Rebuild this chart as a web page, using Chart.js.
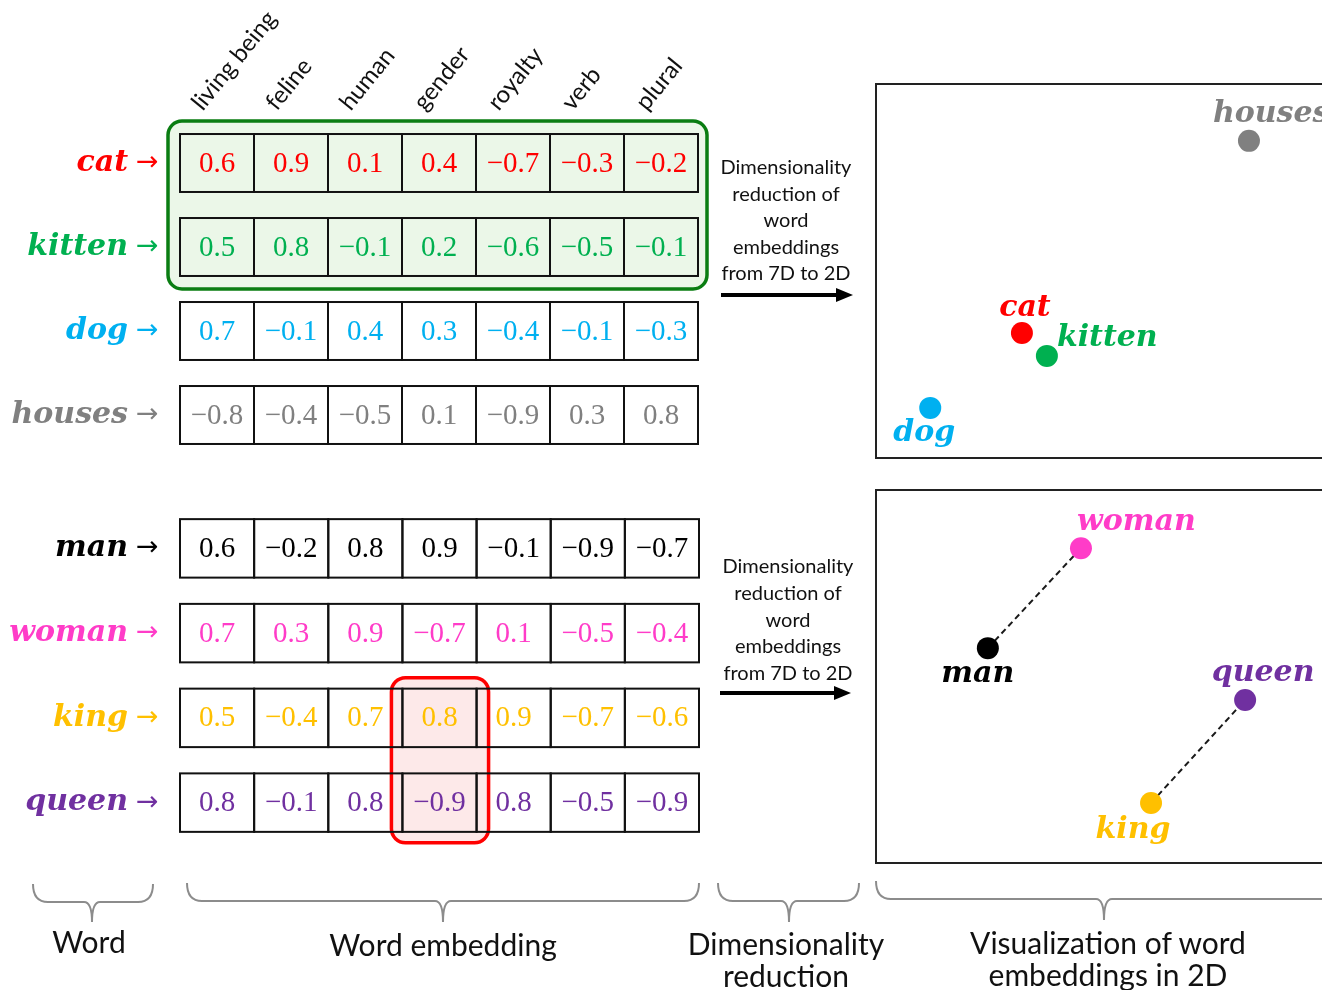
<!DOCTYPE html>
<html>
<head>
<meta charset="utf-8">
<title>Word embeddings</title>
<script src="https://cdn.jsdelivr.net/npm/chart.js@4.4.1/dist/chart.umd.min.js"></script>
<style>
  body { margin: 0; width: 1322px; height: 990px; overflow: hidden; background: #fff; position: relative; }
  .holder { position: absolute; }
  #notes { position: absolute; left: 0; top: 0; pointer-events: none; }
</style>
</head>
<body>
<div class="holder" style="left:0;top:0"><canvas id="tableTop" width="720" height="460"></canvas></div>
<div class="holder" style="left:0;top:480px"><canvas id="tableBottom" width="720" height="380"></canvas></div>
<div class="holder" style="left:865px;top:73px"><canvas id="plotTop" width="505" height="396"></canvas></div>
<div class="holder" style="left:865px;top:479px"><canvas id="plotBottom" width="505" height="395"></canvas></div>

<svg id="notes" width="1322" height="990" font-family="Lato" fill="#111">
  <g text-anchor="middle" font-size="20">
    <text x="786" y="174">Dimensionality</text>
    <text x="786" y="200.5">reduction of</text>
    <text x="786" y="227">word</text>
    <text x="786" y="253.5">embeddings</text>
    <text x="786" y="280">from 7D to 2D</text>
    <text x="788" y="573">Dimensionality</text>
    <text x="788" y="600">reduction of</text>
    <text x="788" y="626.5">word</text>
    <text x="788" y="653">embeddings</text>
    <text x="788" y="680">from 7D to 2D</text>
  </g>
  <g stroke="#000" stroke-width="4">
    <line x1="721" y1="295" x2="838" y2="295"/>
    <line x1="720" y1="693" x2="836" y2="693"/>
  </g>
  <polygon points="836,288 853,295 836,302" fill="#000"/>
  <polygon points="834,686 851,693 834,700" fill="#000"/>
  <g fill="none" stroke="#8c8c8c" stroke-width="2">
    <path d="M33,884 Q33,902 48,902 L84,902 Q92,902 92,922 Q92,902 100,902 L138,902 Q153,902 153,884"/>
    <path d="M187,883 Q187,901 202,901 L435,901 Q443,901 443,922 Q443,901 451,901 L684,901 Q699,901 699,883"/>
    <path d="M718,883 Q718,901 733,901 L781,901 Q789,901 789,922 Q789,901 797,901 L844,901 Q859,901 859,883"/>
    <path d="M876,881 Q876,899 891,899 L1096,899 Q1104,899 1104,920 Q1104,899 1112,899 L1340,899"/>
  </g>
  <g text-anchor="middle" font-size="30">
    <text x="89" y="953">Word</text>
    <text x="443" y="956">Word embedding</text>
    <text x="786" y="955">Dimensionality</text>
    <text x="786" y="987">reduction</text>
    <text x="1108" y="954">Visualization of word</text>
    <text x="1108" y="986">embeddings in 2D</text>
  </g>
</svg>

<script>
// embedding dimensions (column headers)
const features = ['living being', 'feline', 'human', 'gender', 'royalty', 'verb', 'plural'];

// words of the two tables
const wordsTop = ['cat', 'kitten', 'dog', 'houses'];
const wordsBottom = ['man', 'woman', 'king', 'queen'];

// 7D embeddings, one array per word
const catVec    = [0.6, 0.9, 0.1, 0.4, -0.7, -0.3, -0.2];
const kittenVec = [0.5, 0.8, -0.1, 0.2, -0.6, -0.5, -0.1];
const dogVec    = [0.7, -0.1, 0.4, 0.3, -0.4, -0.1, -0.3];
const housesVec = [-0.8, -0.4, -0.5, 0.1, -0.9, 0.3, 0.8];
const manVec    = [0.6, -0.2, 0.8, 0.9, -0.1, -0.9, -0.7];
const womanVec  = [0.7, 0.3, 0.9, -0.7, 0.1, -0.5, -0.4];
const kingVec   = [0.5, -0.4, 0.7, 0.8, 0.9, -0.7, -0.6];
const queenVec  = [0.8, -0.1, 0.8, -0.9, 0.8, -0.5, -0.9];

// 2D positions (both axes 0..10)
const topX = [3.04, 3.56, 1.13, 7.77];
const topY = [3.34, 2.73, 1.34, 8.48];
const bottomX = [2.33, 4.27, 5.73, 7.69];
const bottomY = [5.76, 8.44, 1.61, 4.37];

// highlighted groups and dashed pairs
const similarWords = ['cat', 'kitten'];
const genderWords = ['king', 'queen'];
const genderFeature = 'gender';
const analogyPairs = [['man', 'woman'], ['king', 'queen']];

// styles
const wordColors = {
  cat: '#ff0000', kitten: '#00b050', dog: '#00b0f0', houses: '#808080',
  man: '#000000', woman: '#ff3cc8', king: '#ffc000', queen: '#7030a0'
};
const wordFont = { family: 'DejaVu Serif', size: 30, style: 'italic', weight: 'bold' };
const cellFont = '29px "Liberation Serif"';
// label placement around each plotted point: [dx, dy, align]
const labelOffsets = {
  cat: [3, -17, 'center'], kitten: [10, -10, 'left'], dog: [-6, 33, 'center'], houses: [-36, -19, 'left'],
  man: [-10, 34, 'center'], woman: [-4, -18, 'left'], king: [-18, 35, 'center'], queen: [18, -19, 'center']
};

function fmt(v) {
  return (v < 0 ? '\u2212' : '') + Math.abs(v).toFixed(1);
}

function roundRect(ctx, x, y, w, h, r) {
  ctx.beginPath();
  ctx.moveTo(x + r, y);
  ctx.arcTo(x + w, y, x + w, y + h, r);
  ctx.arcTo(x + w, y + h, x, y + h, r);
  ctx.arcTo(x, y + h, x, y, r);
  ctx.arcTo(x, y, x + w, y, r);
  ctx.closePath();
}

// draws the embedding cells at the points placed by the category scales
const cellTable = {
  id: 'cellTable',
  beforeDatasetsDraw(chart, args, opts) {
    const ctx = chart.ctx;
    const {x, y} = chart.scales;
    const bw = x.width / x.ticks.length;
    const bh = y.height / y.ticks.length;
    (opts.highlights || []).forEach(h => {
      const xs = h.cols.map(c => x.getPixelForValue(features.indexOf(c)));
      const ys = h.rows.map(r => y.getPixelForValue(y.getLabels().indexOf(r)));
      const left = Math.min(...xs) - bw / 2 - h.padX[0];
      const right = Math.max(...xs) + bw / 2 + h.padX[1];
      const top = Math.min(...ys) - bh * 0.345 - h.padY;
      const bottom = Math.max(...ys) + bh * 0.345 + h.padY;
      ctx.save();
      roundRect(ctx, left, top, right - left, bottom - top, 14);
      ctx.fillStyle = h.fill;
      ctx.fill();
      ctx.lineWidth = 3.5;
      ctx.strokeStyle = h.stroke;
      ctx.stroke();
      ctx.restore();
    });
  },
  afterDatasetsDraw(chart) {
    const ctx = chart.ctx;
    const {x, y} = chart.scales;
    const bw = x.width / x.ticks.length;
    const bh = y.height / y.ticks.length;
    const ch = bh * 0.69;
    const meta = chart.getDatasetMeta(0);
    const cells = chart.data.datasets[0].data;
    ctx.save();
    meta.data.forEach((pt, i) => {
      const cell = cells[i];
      ctx.lineWidth = 2;
      ctx.strokeStyle = '#111';
      ctx.strokeRect(pt.x - bw / 2, pt.y - ch / 2, bw, ch);
      ctx.fillStyle = wordColors[cell.y];
      ctx.font = cellFont;
      ctx.textAlign = 'center';
      ctx.textBaseline = 'middle';
      ctx.fillText(fmt(cell.v), pt.x, pt.y + 1);
    });
    // arrows after the word labels
    y.getLabels().forEach((w, i) => {
      ctx.fillStyle = wordColors[w];
      ctx.font = '27px "DejaVu Sans"';
      ctx.textAlign = 'left';
      ctx.textBaseline = 'middle';
      ctx.fillText('\u2192', chart.chartArea.left - 44, y.getPixelForTick(i));
    });
    ctx.restore();
  }
};

function tableChart(id, words, vectors, showHeader, padding, highlights) {
  const cells = words.flatMap((w, r) => features.map((f, c) => ({x: f, y: w, v: vectors[r][c]})));
  return new Chart(document.getElementById(id), {
    type: 'scatter',
    data: { datasets: [{ data: cells, pointRadius: 0, pointHoverRadius: 0 }] },
    options: {
      responsive: false,
      animation: false,
      events: [],
      layout: { padding: padding },
      plugins: { legend: { display: false }, tooltip: { enabled: false }, cellTable: { highlights: highlights } },
      scales: {
        x: {
          type: 'category', labels: features, offset: true, position: 'top', display: showHeader,
          grid: { display: false, drawTicks: false }, border: { display: false },
          ticks: { autoSkip: false, minRotation: 51, maxRotation: 51, padding: 5, labelOffset: 2,
                   color: '#111', font: { family: 'Lato', size: 24 } },
          afterFit: s => {
            s.height = showHeader ? 121 : 0;
            s.paddingLeft = 0; s.paddingRight = 0;
          }
        },
        y: {
          type: 'category', labels: words, offset: true,
          grid: { display: false, drawTicks: false }, border: { display: false },
          ticks: { padding: 52, font: wordFont, color: c => wordColors[words[c.index]] },
          afterFit: s => {
            s.width = 180;
            s.paddingTop = 0; s.paddingBottom = 0;
          }
        }
      }
    },
    plugins: [cellTable]
  });
}

tableChart('tableTop', wordsTop, [catVec, kittenVec, dogVec, housesVec], true,
  { top: 0, right: 22, bottom: 3, left: 0 },
  [{ rows: similarWords, cols: features, padX: [12, 9], padY: 13, fill: '#ebf7e8', stroke: '#0a7d12' }]);

tableChart('tableBottom', wordsBottom, [manVec, womanVec, kingVec, queenVec], false,
  { top: 26, right: 21, bottom: 15, left: 0 },
  [{ rows: genderWords, cols: [genderFeature], padX: [11, 12], padY: 11, fill: '#fde9e9', stroke: '#ff0000' }]);

// frame and word labels of the 2D plots
const panelFrame = {
  id: 'panelFrame',
  beforeDatasetsDraw(chart) {
    const a = chart.chartArea;
    const ctx = chart.ctx;
    ctx.save();
    ctx.lineWidth = 2;
    ctx.strokeStyle = '#222';
    ctx.strokeRect(a.left, a.top, a.right - a.left, a.bottom - a.top);
    ctx.restore();
  }
};

const pointLabels = {
  id: 'pointLabels',
  afterDatasetsDraw(chart) {
    const ctx = chart.ctx;
    const meta = chart.getDatasetMeta(0);
    const pts = chart.data.datasets[0].data;
    ctx.save();
    ctx.font = `${wordFont.style} ${wordFont.weight} ${wordFont.size}px "${wordFont.family}"`;
    ctx.textBaseline = 'alphabetic';
    meta.data.forEach((el, i) => {
      const w = pts[i].word;
      const [dx, dy, align] = labelOffsets[w];
      ctx.textAlign = align;
      ctx.fillStyle = wordColors[w];
      ctx.fillText(w, el.x + dx, el.y + dy);
    });
    ctx.restore();
  }
};

function projectionChart(id, words, xs, ys, pairs) {
  const pts = words.map((w, i) => ({ x: xs[i], y: ys[i], word: w }));
  const lines = pairs.filter(p => words.includes(p[0])).map(([a, b]) => ({
    data: [pts[words.indexOf(a)], pts[words.indexOf(b)]],
    showLine: true, borderColor: '#1a1a1a', borderWidth: 2, borderDash: [6, 4],
    pointRadius: 0, order: 2
  }));
  return new Chart(document.getElementById(id), {
    type: 'scatter',
    data: {
      datasets: [{
        data: pts, backgroundColor: words.map(w => wordColors[w]),
        pointRadius: 11, borderWidth: 0, order: 1
      }, ...lines]
    },
    options: {
      responsive: false,
      animation: false,
      events: [],
      layout: { padding: { left: 11, top: 11, right: 14, bottom: 11 } },
      plugins: { legend: { display: false }, tooltip: { enabled: false } },
      scales: {
        x: { type: 'linear', min: 0, max: 10, display: false },
        y: { type: 'linear', min: 0, max: 10, display: false }
      }
    },
    plugins: [panelFrame, pointLabels]
  });
}

projectionChart('plotTop', wordsTop, topX, topY, analogyPairs);
projectionChart('plotBottom', wordsBottom, bottomX, bottomY, analogyPairs);
</script>
</body>
</html>
